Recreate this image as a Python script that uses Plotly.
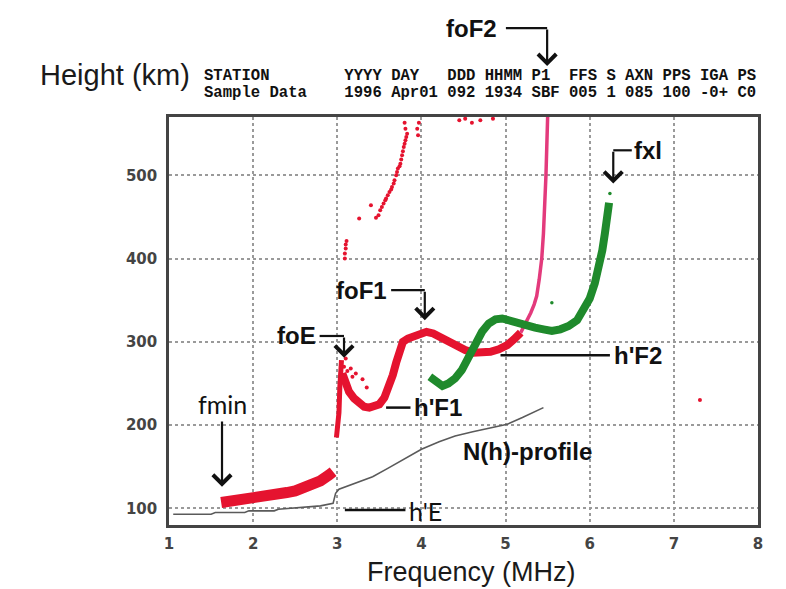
import plotly.graph_objects as go

# ---------------- data ----------------
# O-mode E-layer trace (red)
e_freq = [1.62, 1.7, 1.8, 1.9, 2.0, 2.1, 2.2, 2.3, 2.4, 2.5, 2.6, 2.7, 2.8, 2.9, 2.95]
e_h = [107, 108, 109, 110, 112, 113, 115, 117, 119, 121, 124, 128, 133, 140, 144]

# foE cusp spike
cusp_freq = [2.99, 3.0, 3.02, 3.03, 3.05]
cusp_h = [185, 195, 215, 245, 278]

# O-mode F trace (red)
f_freq = [3.06, 3.1, 3.14, 3.2, 3.26, 3.32, 3.38, 3.44, 3.5, 3.56, 3.62, 3.66, 3.7, 3.74,
          3.78, 3.84, 3.9, 3.98, 4.06, 4.14, 4.22, 4.32, 4.42, 4.52, 4.62, 4.72, 4.82,
          4.92, 5.02, 5.1, 5.18]
f_h = [262, 248, 240, 232, 226, 222, 221, 222, 225, 233, 246, 260, 275, 290, 300, 304,
       306, 309, 312, 310, 306, 300, 294, 290, 287, 287, 288, 291, 296, 303, 311]

# spread echoes above F1 trace
spread_freq = [3.08, 3.12, 3.18, 3.22, 3.3, 3.35, 3.1, 3.16]
spread_h = [270, 265, 258, 262, 255, 245, 280, 268]

# O-mode F2 cusp branch (pink)
f2_freq = [5.18, 5.24, 5.3, 5.34, 5.37, 5.4, 5.43, 5.45, 5.465, 5.48, 5.49, 5.5]
f2_h = [311, 322, 335, 345, 355, 375, 400, 430, 460, 500, 535, 570]

# multi-hop echoes (red scatter)
hop_freq = [3.09, 3.09, 3.1, 3.1, 3.11, 3.26, 3.4, 3.46, 3.49, 3.51, 3.53, 3.55, 3.57,
            3.58, 3.6, 3.62, 3.64, 3.65, 3.67, 3.68, 3.7, 3.71, 3.72, 3.74, 3.75, 3.76,
            3.77, 3.78, 3.79, 3.8, 3.81, 3.82, 3.83, 3.81, 3.8, 3.96, 3.95, 3.97,
            4.45, 4.52, 4.6, 4.7, 4.85, 7.31]
hop_h = [400, 406, 412, 417, 421, 448, 464, 449, 452, 458, 462, 466, 470, 472, 476, 480,
         483, 486, 490, 494, 500, 504, 508, 511, 514, 519, 524, 529, 534, 538, 542, 546,
         550, 556, 563, 548, 556, 563, 566, 568, 563, 566, 568, 230]

# X-mode trace (green)
x_freq = [4.1, 4.18, 4.25, 4.32, 4.4, 4.48, 4.56, 4.64, 4.72, 4.8, 4.88, 4.96, 5.05, 5.15,
          5.25, 5.35, 5.45, 5.55, 5.65, 5.75, 5.85, 5.93, 6.0, 6.06, 6.11, 6.15, 6.18,
          6.21, 6.23]
x_h = [258, 252, 247, 250, 256, 266, 282, 298, 312, 322, 327, 328, 325, 322, 319, 317,
       315, 313, 315, 319, 326, 338, 352, 370, 390, 410, 430, 450, 467]
x_dot_freq = [6.24, 5.55]
x_dot_h = [478, 347]

# N(h) profile (grey)
nh_freq = [1.05, 1.5, 1.55, 1.9, 1.95, 2.25, 2.3, 2.6, 2.8, 2.95, 2.98, 3.02, 3.2, 3.42,
           3.6, 3.82, 4.0, 4.21, 4.4, 4.61, 4.8, 5.02, 5.2, 5.45]
nh_h = [93, 93, 95, 95, 97, 97, 99, 101, 103, 106, 118, 123, 130, 138, 148, 161, 171,
        180, 187, 192, 196, 201, 209, 221]

x_ticks = [1, 2, 3, 4, 5, 6, 7, 8]
y_ticks = [100, 200, 300, 400, 500]

header_line1 = "STATION        YYYY DAY   DDD HHMM P1  FFS S AXN PPS IGA PS"
header_line2 = "Sample Data    1996 Apr01 092 1934 SBF 005 1 085 100 -0+ C0"

RED = "#e5132f"
PINK = "#e33a7c"
GREEN = "#1f8a2c"
GREY = "#5a5a5a"

fig = go.Figure()

fig.add_trace(go.Scatter(x=nh_freq, y=nh_h, mode="lines",
                         line=dict(color=GREY, width=1.6), hoverinfo="skip"))
fig.add_trace(go.Scatter(x=e_freq, y=e_h, mode="lines",
                         line=dict(color=RED, width=11), hoverinfo="skip"))
fig.add_trace(go.Scatter(x=cusp_freq, y=cusp_h, mode="lines",
                         line=dict(color=RED, width=5), hoverinfo="skip"))
fig.add_trace(go.Scatter(x=f_freq, y=f_h, mode="lines",
                         line=dict(color=RED, width=8), hoverinfo="skip"))
fig.add_trace(go.Scatter(x=spread_freq, y=spread_h, mode="markers",
                         marker=dict(color=RED, size=4), hoverinfo="skip"))
fig.add_trace(go.Scatter(x=f2_freq, y=f2_h, mode="lines",
                         line=dict(color=PINK, width=3.5), hoverinfo="skip"))
fig.add_trace(go.Scatter(x=hop_freq, y=hop_h, mode="markers",
                         marker=dict(color=RED, size=4), hoverinfo="skip"))
fig.add_trace(go.Scatter(x=x_freq, y=x_h, mode="lines",
                         line=dict(color=GREEN, width=8), hoverinfo="skip"))
fig.add_trace(go.Scatter(x=x_dot_freq, y=x_dot_h, mode="markers",
                         marker=dict(color=GREEN, size=3.5), hoverinfo="skip"))

LBL = dict(family="Liberation Sans, Arial", size=24, color="#111")
CAL = dict(family="Lato, Carlito, sans-serif", size=25, color="#111")
ann = []
shapes = []
ARROW = dict(text="", showarrow=True, arrowhead=4, arrowsize=1.6, arrowwidth=2.2,
             arrowcolor="#111")


def elbow(x0, x1, y, ytip):
    shapes.append(dict(type="line", xref="x", yref="y", x0=x0, x1=x1, y0=y, y1=y,
                       line=dict(color="#111", width=2.2)))
    ann.append(dict(xref="x", yref="y", axref="x", ayref="y", x=x1, y=ytip, ax=x1, ay=y,
                    **ARROW))


def hline(x0, x1, y):
    shapes.append(dict(type="line", xref="x", yref="y", x0=x0, x1=x1, y0=y, y1=y,
                       line=dict(color="#111", width=2.5)))


def text(x, y, s, font, xanchor="center", xref="x", yref="y"):
    ann.append(dict(xref=xref, yref=yref, x=x, y=y, text=s, showarrow=False,
                    font=font, xanchor=xanchor, yanchor="middle"))


# foF2 (above plot, paper coords)
text(0.514, 1.218, "<b>foF2</b>", LBL, xref="paper", yref="paper")
shapes.append(dict(type="line", xref="paper", yref="paper", x0=0.572, x1=0.642,
                   y0=1.218, y1=1.218, line=dict(color="#111", width=2.2)))
ann.append(dict(xref="paper", yref="paper", x=0.642, y=1.125, axref="pixel", ayref="pixel",
                ax=0, ay=-38, **ARROW))
# fxl
text(6.5, 530, "<b>fxl</b>", LBL, xanchor="left")
elbow(6.5, 6.28, 530, 490)
# foF1
text(3.29, 362, "<b>foF1</b>", LBL)
elbow(3.64, 4.04, 362, 326)
# foE
text(2.51, 307, "<b>foE</b>", LBL)
elbow(2.79, 3.08, 307, 281)
# fmin
text(1.64, 225, "fmin", CAL)
ann.append(dict(x=1.63, y=126, ax=1.63, ay=206, xref="x", yref="y", axref="x", ayref="y",
                **ARROW))
# h'F1
hline(3.58, 3.87, 221)
text(3.89, 221, "<b>h'F1</b>", LBL, xanchor="left")
# h'F2
hline(4.94, 6.24, 284)
text(6.27, 284, "<b>h'F2</b>", LBL, xanchor="left")
# N(h)-profile
text(4.47, 168, "<b>N(h)-profile</b>", LBL, xanchor="left")
# h'E
hline(3.09, 3.81, 98)
text(3.83, 97, "h'E", CAL, xanchor="left")

# header
ann.append(dict(xref="paper", yref="paper", x=-0.092, y=1.103, text="Height (km)",
                showarrow=False, xanchor="center", yanchor="middle",
                font=dict(family="Liberation Sans, Arial", size=29, color="#1a1a1a")))
MONO = dict(family="Liberation Mono, DejaVu Sans Mono, monospace", size=15.6, color="#111")
ann.append(dict(xref="paper", yref="paper", x=0.056, y=1.100, text=f"<b>{header_line1}</b>",
                showarrow=False, xanchor="left", yanchor="middle", font=MONO))
ann.append(dict(xref="paper", yref="paper", x=0.056, y=1.058, text=f"<b>{header_line2}</b>",
                showarrow=False, xanchor="left", yanchor="middle", font=MONO))
ann.append(dict(xref="paper", yref="paper", x=0.514, y=-0.115, text="Frequency (MHz)",
                showarrow=False, xanchor="center", yanchor="middle",
                font=dict(family="Liberation Sans, Arial", size=27, color="#1a1a1a")))

TICKF = dict(family="DejaVu Sans, Verdana", size=15, color="#444")
fig.update_layout(
    width=786, height=589,
    margin=dict(l=169, r=28, t=117, b=64),
    paper_bgcolor="white", plot_bgcolor="white",
    showlegend=False,
    annotations=ann, shapes=shapes,
    xaxis=dict(range=[1, 8], tickvals=x_ticks, ticktext=[f"<b>{v}</b>" for v in x_ticks],
               showgrid=True, gridcolor="#9a9a9a", griddash="dot", gridwidth=1.5,
               showline=True, linecolor="#444", linewidth=2.5, mirror=True,
               zeroline=False, ticks="", tickfont=TICKF, ticklabelstandoff=3),
    yaxis=dict(range=[80, 570], tickvals=y_ticks, ticktext=[f"<b>{v}</b>" for v in y_ticks],
               showgrid=True, gridcolor="#9a9a9a", griddash="dot", gridwidth=1.5,
               showline=True, linecolor="#444", linewidth=2.5, mirror=True,
               zeroline=False, ticks="", tickfont=TICKF, ticklabelstandoff=6),
)

fig.write_html("out.html")
